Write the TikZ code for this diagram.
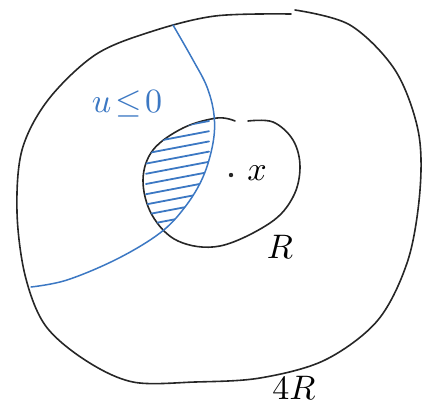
\documentclass[tikz,border=0pt]{standalone}
\usepackage{amsmath, amssymb}
\usepackage{xcolor}
\usepackage{tikz}
\usetikzlibrary{calc}

\definecolor{penblue}{RGB}{60,120,195}

\begin{document}
\begin{tikzpicture}[x=1pt, y=-1pt, line cap=round, line join=round]
    \useasboundingbox (0,0) rectangle (430,405);
    \tikzset{
        pen/.style={line width=1.6pt, black!85},
        bluepen/.style={line width=1.5pt, penblue},
        hatchline/.style={line width=1.8pt, penblue},
        lbl/.style={inner sep=0pt, scale=3.4}
    }

    % 1. Vòng lớn 4R
    \draw[pen] plot[smooth, tension=0.55] coordinates {
        (295,10) (350,25) (395,70) (418,130) (420,190) (408,260)
        (378,320) (325,360) (260,378) (195,382) (133,382) (85,360)
        (45,325) (25,275) (17,212) (22,150) (48,100) (95,55)
        (150,32) (215,16) (291,14)};

    % 2. Vòng nhỏ R (có khe hở phía trên)
    \draw[pen] plot[smooth, tension=0.6] coordinates {
        (248,121) (273,122) (293,140) (300,167) (293,197) (270,223)
        (220,246) (178,241) (152,215) (143,180) (153,150) (183,128)
        (217,118) (235,121)};

    % 3. Gạch chéo miền u <= 0 trong vòng nhỏ
    \begin{scope}
        \clip plot[smooth cycle, tension=0.6] coordinates {
            (248,121) (273,122) (293,140) (300,167) (293,197) (270,223)
            (220,246) (178,241) (152,215) (143,180) (153,150) (183,128)
            (217,118) (235,121)};
        \clip plot[smooth, tension=0.6] coordinates {
            (173,25) (193,60) (207,87) (214,115) (213,143) (203,177)
            (185,207) (160,233) (117,257)} -- (0,300) -- (0,0) -- cycle;
        \foreach \k in {0,...,10} {
            \draw[hatchline] (146,{133+10.2*\k}) -- (209,{121+10.2*\k});
        }
    \end{scope}

    % 4. Đường cong u = 0
    \draw[bluepen] plot[smooth, tension=0.6] coordinates {
        (173,25) (193,60) (207,87) (214,115) (213,143) (203,177)
        (185,207) (160,233) (117,259) (67,280) (31,287)};

    % 5. Điểm x và các nhãn
    \fill[black!85] (231,175) circle (2.2pt);
    \node[lbl] (xlbl) at (257,173) {$x$};
    \node[lbl] (rlbl) at (280,247) {$R$};
    \node[lbl] (fourR) at (294,388) {$4R$};
    \node[lbl, penblue] (ule) at (127,104) {$u\!\leq\!0$};
\end{tikzpicture}
\end{document}
